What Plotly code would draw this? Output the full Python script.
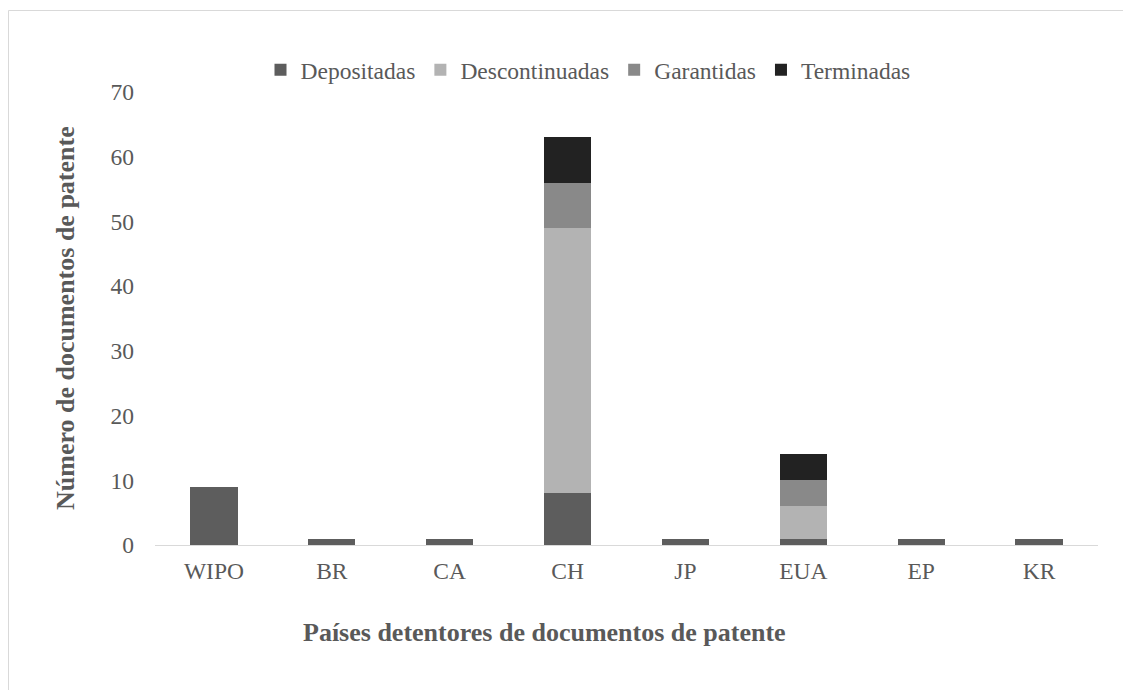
import plotly.graph_objects as go

categories = ["WIPO", "BR", "CA", "CH", "JP", "EUA", "EP", "KR"]
depositadas = [9, 1, 1, 8, 1, 1, 1, 1]
descontinuadas = [0, 0, 0, 41, 0, 5, 0, 0]
garantidas = [0, 0, 0, 7, 0, 4, 0, 0]
terminadas = [0, 0, 0, 7, 0, 4, 0, 0]

series = [
    ("Depositadas", depositadas, "#5d5d5d"),
    ("Descontinuadas", descontinuadas, "#b3b3b3"),
    ("Garantidas", garantidas, "#898989"),
    ("Terminadas", terminadas, "#222222"),
]

font_family = "Liberation Serif"
fig = go.Figure()
for name, vals, color in series:
    fig.add_trace(go.Bar(
        name=name, x=categories, y=vals,
        marker=dict(color=color, line=dict(width=0)),
        width=0.4,
    ))

# figure is placed at (8,8) in the page (body margin)
OFF = 8
W, H = 1131 - OFF, 690 - OFF
L, R, T, B = 147, 33, 84, 145
pw, ph = W - L - R, H - T - B


def px(xs):
    return (xs - OFF - L) / pw


def py(ys):
    return (H - B - (ys - OFF)) / ph


fig.update_layout(
    width=W, height=H,
    barmode="stack",
    plot_bgcolor="white", paper_bgcolor="white",
    margin=dict(l=L, r=R, t=T, b=B),
    font=dict(family=font_family, color="#595959", size=23.5),
    legend=dict(
        orientation="h", x=px(588), xanchor="center",
        y=py(70), yanchor="middle",
        font=dict(size=23.5, family=font_family, color="#595959"),
        traceorder="normal", itemwidth=30,
    ),
    xaxis=dict(
        showgrid=False, showline=True, linecolor="#d9d9d9", linewidth=1,
        ticks="", tickfont=dict(size=23.5), ticklabelstandoff=5,
    ),
    yaxis=dict(
        range=[0, 70], dtick=10, showgrid=False, zeroline=False,
        showline=False, ticks="", tickfont=dict(size=23.5), ticklabelstandoff=20,
    ),
    annotations=[
        dict(text="<b>Países detentores de documentos de patente</b>",
             xref="paper", yref="paper", x=px(544), y=py(632),
             xanchor="center", yanchor="middle", showarrow=False,
             font=dict(size=26, family=font_family, color="#595959")),
        dict(text="<b>Número de documentos de patente</b>",
             xref="paper", yref="paper", x=px(65), y=py(318),
             xanchor="center", yanchor="middle", showarrow=False, textangle=-90,
             font=dict(size=26, family=font_family, color="#595959")),
    ],
    shapes=[
        dict(type="rect", xref="paper", yref="paper",
             x0=px(8.5), x1=px(1160),
             y0=py(720), y1=py(10.5),
             line=dict(color="#d9d9d9", width=1), fillcolor="rgba(0,0,0,0)", layer="below"),
    ],
)

fig.write_html("out.html")
